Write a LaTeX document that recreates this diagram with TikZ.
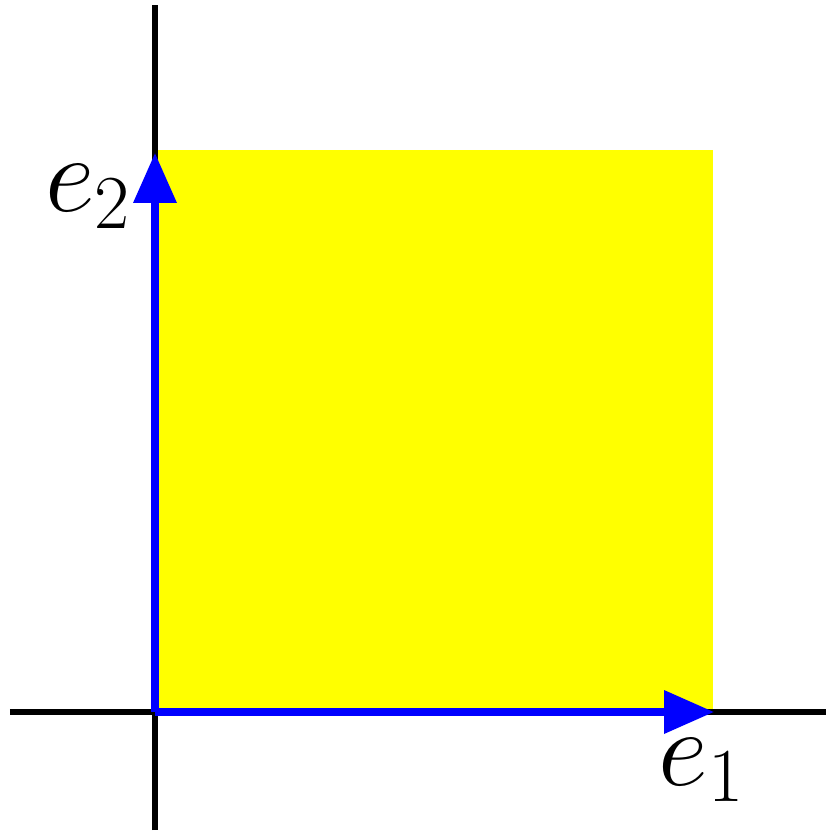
\RequirePackage{fix-cm}
\documentclass[tikz,border=0pt]{standalone}
\usetikzlibrary{arrows.meta}
\usepackage{amsmath,amssymb}
\definecolor{sqyellow}{RGB}{255,255,0}
\definecolor{vecblue}{RGB}{0,0,255}

\begin{document}
\begin{tikzpicture}[
    axis/.style={line width=1.7pt, black},
    vec/.style={line width=2pt, vecblue, -{Triangle[length=0.5cm, width=0.42cm]}},
    lab/.style={font=\fontsize{31}{36}\selectfont, anchor=base, inner sep=0pt}
]

% Fixed frame
\useasboundingbox (-1.55,-1.20) rectangle (6.71,7.12);

% Points
\coordinate (O) at (0,0);
\coordinate (E1) at (5.59,0);
\coordinate (E2) at (0,5.59);

% Unit square
\fill[sqyellow] (O) rectangle (5.58,5.62);

% Coordinate axes
\coordinate (Xl) at (-1.45,0);
\coordinate (Xr) at (6.71,0);
\coordinate (Yb) at (0,-1.18);
\coordinate (Yt) at (0,7.07);
\draw[axis] (Xl) -- (Xr);
\draw[axis] (Yb) -- (Yt);

% Basis vectors
\draw[vec] (O) -- (E1);
\draw[vec] (O) -- (E2);

% Labels
\node[lab] (L1) at (5.47,-0.73) {$e_1$};
\node[lab] (L2) at (-0.665,5.00) {$e_2$};

\end{tikzpicture}
\end{document}
